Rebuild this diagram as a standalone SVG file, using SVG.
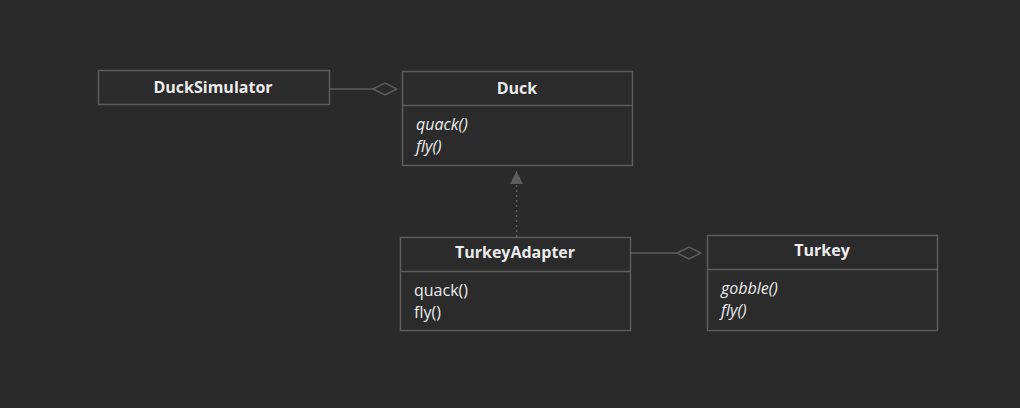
<svg xmlns="http://www.w3.org/2000/svg" width="1020" height="408" viewBox="0 0 1020 408">
<style>
.box{fill:#2b2b2b;stroke:#5c5c5c;stroke-width:1.5}
.ln{stroke:#5c5c5c;stroke-width:1.5;fill:none}
.t{font-family:"Open Sans","Noto Sans",sans-serif;font-size:16px;fill:#ececec}
.h{font-weight:bold;text-anchor:middle}
.i{font-style:italic}
</style>
<defs>
<marker id="dia" markerWidth="26" markerHeight="14" refX="25" refY="7" orient="auto" markerUnits="userSpaceOnUse">
<path d="M1,7 L13,1 L25,7 L13,13 Z" fill="#2b2b2b" stroke="#5c5c5c" stroke-width="1.5"/>
</marker>
<marker id="tri" markerWidth="16" markerHeight="14" refX="14" refY="7" orient="auto" markerUnits="userSpaceOnUse">
<path d="M1,0.5 L14,7 L1,13.5 Z" fill="#5c5c5c"/>
</marker>
</defs>
<rect width="1020" height="408" fill="#2a2a2a"/>
<g id="connectors">
<line class="ln" x1="330" y1="89" x2="397" y2="89" marker-end="url(#dia)"/>
<line class="ln" x1="516.5" y1="237" x2="516.5" y2="171" stroke-width="2" stroke-dasharray="2,3" marker-end="url(#tri)"/>
<line class="ln" x1="631" y1="253" x2="701" y2="253" marker-end="url(#dia)"/>
</g>
<g id="DuckSimulator">
<rect class="box" x="98.5" y="70.5" width="231" height="34"/>
<text class="t h" x="213" y="93">DuckSimulator</text>
</g>
<g id="Duck">
<rect class="box" x="402.5" y="71.5" width="230" height="94"/>
<line class="ln" x1="402.5" y1="105.5" x2="632.5" y2="105.5"/>
<text class="t h" x="517" y="94">Duck</text>
<text class="t i" x="416" y="130">quack()</text>
<text class="t i" x="416" y="152">fly()</text>
</g>
<g id="TurkeyAdapter">
<rect class="box" x="400.5" y="237.5" width="230" height="93"/>
<line class="ln" x1="400.5" y1="271.5" x2="630.5" y2="271.5"/>
<text class="t h" x="515" y="258">TurkeyAdapter</text>
<text class="t" x="414" y="296">quack()</text>
<text class="t" x="414" y="318">fly()</text>
</g>
<g id="Turkey">
<rect class="box" x="707.5" y="235.5" width="230" height="95"/>
<line class="ln" x1="707.5" y1="269.5" x2="937.5" y2="269.5"/>
<text class="t h" x="822" y="256">Turkey</text>
<text class="t i" x="721" y="294">gobble()</text>
<text class="t i" x="721" y="316">fly()</text>
</g>
</svg>
